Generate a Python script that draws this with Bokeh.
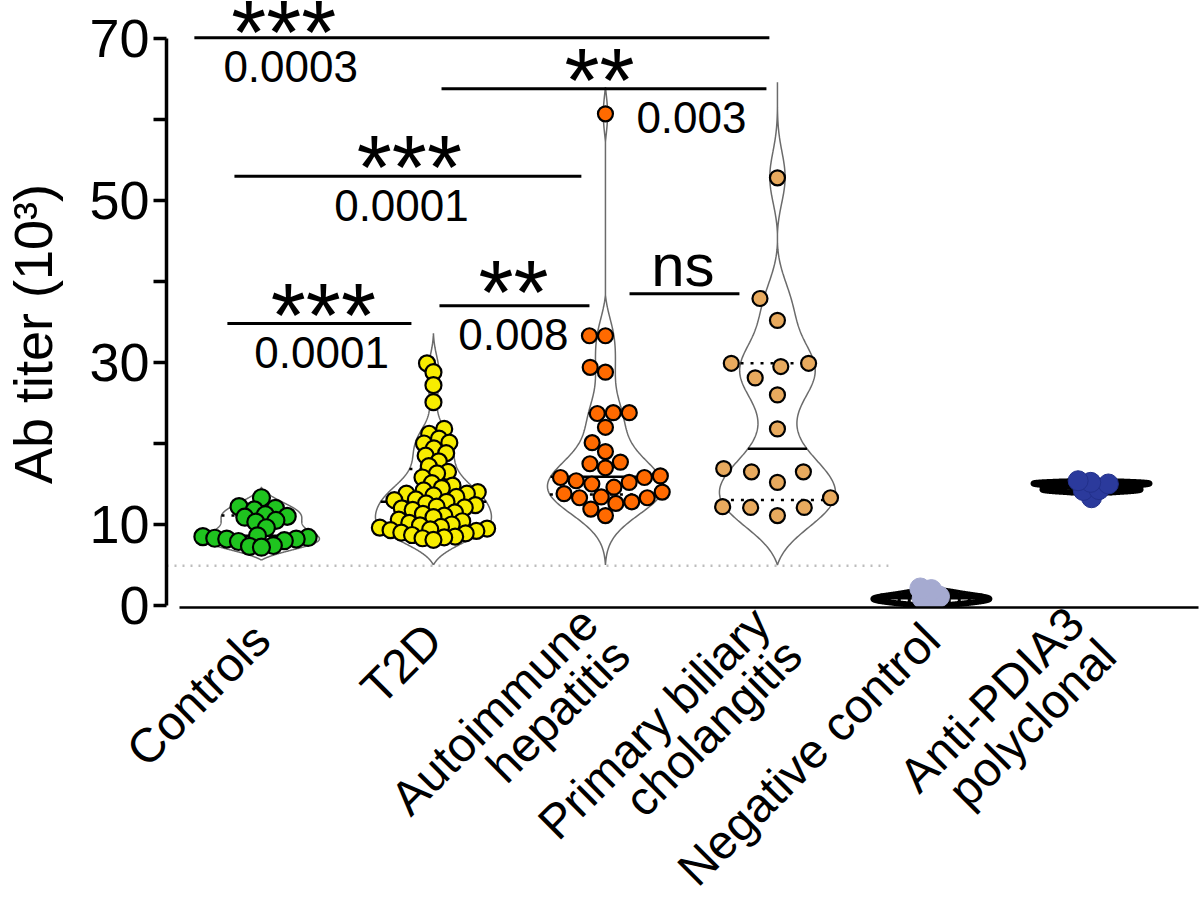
import numpy as np
from bokeh.plotting import figure
from bokeh.models import Range1d, FixedTicker
from bokeh.embed import file_html
from bokeh.resources import INLINE
from bokeh.core.properties import value

# ---------------- data ----------------
categories = ["Controls", "T2D", "Autoimmune\nhepatitis", "Primary biliary\ncholangitis",
              "Negative control", "Anti-PDIA3\npolyclonal"]

controls = [13.3, 12.2, 12.0, 11.8, 11.2, 11.0, 10.9, 10.5, 10.3, 9.6, 8.6, 8.5, 8.4, 8.3,
            8.2, 8.2, 8.0, 7.9, 7.4, 7.3, 7.2]
t2d = [29.9, 28.8, 27.2, 25.1, 21.8, 21.2, 20.6, 20.1, 20.0, 19.4, 18.8, 18.5, 17.8, 17.2,
       16.5, 16.3, 15.8, 15.1, 14.8, 14.5, 14.2, 14.0, 13.8, 13.8, 13.6, 13.4, 13.1, 13.0,
       12.8, 12.6, 12.4, 12.2, 12.1, 12.0, 11.8, 11.5, 11.3, 11.1, 10.9, 10.6, 10.4, 10.2,
       10.0, 9.9, 9.7, 9.6, 9.5, 9.4, 9.3, 9.2, 9.0, 8.9, 8.7, 8.5, 8.4, 8.3, 8.1]
aih = [60.7, 33.3, 33.3, 29.4, 28.8, 23.8, 23.8, 23.7, 22.0, 20.1, 19.0, 17.7, 17.5, 17.0,
       16.0, 15.8, 15.8, 15.4, 15.2, 15.0, 14.6, 14.0, 13.8, 13.4, 13.3, 13.3, 12.8, 12.6,
       11.9, 11.1]
pbc = [52.8, 37.9, 35.2, 29.9, 29.9, 29.5, 28.1, 26.0, 21.8, 16.9, 16.5, 16.5, 15.2, 13.3,
       12.2, 12.1, 12.1, 11.1]
neg_ctrl = [0.3, 0.9, 1.1, 1.9, 2.1]
anti_pdia3 = [13.3, 14.2, 14.3, 15.0, 15.2, 15.4]

groups = [controls, t2d, aih, pbc, neg_ctrl, anti_pdia3]

# violin extents and kernel bandwidths
violin_lo = [5.6, 5.0, 5.0, 5.0, -0.2, 13.8]
violin_hi = [14.6, 33.6, 64.0, 64.6, 2.0, 15.4]
bandwidth = [1.1, 1.8, 2.6, 3.2, 0.5, 0.4]

cutoff = 4.9

# significance annotations
sig_stars = ["***", "**", "***", "***", "**", "ns"]
sig_p = ["0.0003", "0.003", "0.0001", "0.0001", "0.008", ""]
sig_y = [70.1, 63.8, 53.0, 34.8, 37.0, 38.5]
sig_x0 = [-0.39, 1.047, -0.157, -0.198, 1.035, 2.14]
sig_x1 = [2.953, 2.936, 1.86, 0.872, 1.907, 2.779]
sig_star_x = [0.13, 1.965, 0.86, 0.36, 1.465, 2.45]
sig_p_x = [0.17, 2.5, 0.814, 0.35, 1.465, 2.45]
sig_star_dy = [0.55, 1.0, 1.0, 1.0, 1.6, 3.45]

# ---------------- layout / style ----------------
x_pos = [0.0, 1.0, 2.0, 3.0, 3.895, 4.826]
PX_X, PX_Y = 172.0, 8.1
XR = (-0.552, 5.448)
YR = (-0.25, 74.69)
fill_colors = ["#1fc41f", "#f7ec00", "#ff6a00", "#e8aa5e", "#a5aad0", "#2b3a9c"]
edge_colors = ["black", "black", "black", "black", "#a5aad0", "#22308a"]
msize = [17, 16, 15, 15, 21, 20]
swarm_d = [12, 11, 16, 28, 10, 11]
vline_color = ["#6b6b6b", "#6b6b6b", "#6b6b6b", "#6b6b6b", "black", "black"]
vline_w = [1.5, 1.5, 1.5, 1.5, 6, 6]
VW = 58 / PX_X
FONT = "Liberation Sans"


def swarm(vals, d_px):
    vals = np.asarray(vals, dtype=float)
    order = np.argsort(vals)
    placed = []
    offs = np.zeros(len(vals))
    for i in order:
        y = vals[i] * PX_Y
        cands = [0.0]
        for xj, yj in placed:
            dy = abs(y - yj)
            if dy < d_px:
                dx = np.sqrt(d_px ** 2 - dy ** 2)
                cands += [xj + dx, xj - dx]
        cands = sorted(cands, key=lambda c: (abs(c), c))
        for c in cands:
            if all((c - xj) ** 2 + (y - yj) ** 2 >= d_px ** 2 - 1e-6 for xj, yj in placed):
                offs[i] = c
                placed.append((c, y))
                break
    return offs / PX_X


def violin(vals, lo, hi, h):
    g = np.linspace(lo, hi, 400)
    v = np.asarray(vals, dtype=float)[:, None]
    d = np.exp(-0.5 * ((g[None, :] - v) / h) ** 2).sum(axis=0)
    ramp = d[0] + (d[-1] - d[0]) * (g - lo) / (hi - lo)
    d = np.clip(d - ramp, 0, None)
    return g, d / d.max() * VW


p = figure(frame_width=int(round((XR[1] - XR[0]) * PX_X)),
           frame_height=int(round((YR[1] - YR[0]) * PX_Y)),
           x_range=Range1d(*XR), y_range=Range1d(*YR),
           output_backend="svg", toolbar_location=None,
           min_border_left=165, min_border_right=3, min_border_top=0, min_border_bottom=317)
p.outline_line_color = None
p.xgrid.visible = False
p.ygrid.visible = False

# cutoff dotted line
p.line([XR[0], 3.645], [cutoff, cutoff], line_color="#bdbdbd", line_width=2.5, line_dash="2 6")

for i, vals in enumerate(groups):
    x0 = x_pos[i]
    g, hw = violin(vals, violin_lo[i], violin_hi[i], bandwidth[i])
    xs = np.concatenate([[x0], x0 + hw, [x0], (x0 - hw)[::-1], [x0]])
    ys = np.concatenate([[g[0]], g, [g[-1]], g[::-1], [g[0]]])
    p.line(xs, ys, line_color=vline_color[i], line_width=vline_w[i])
    q1, med, q3 = np.percentile(vals, [25, 50, 75], method="weibull")
    for q, dash in ((q1, "3 7"), (med, "solid"), (q3, "3 7")):
        w = np.interp(q, g, hw)
        p.line([x0 - w, x0 + w], [q, q], line_color="black",
               line_width=(vline_w[i] if i >= 4 else 2.5), line_dash=dash)

for i, vals in enumerate(groups):
    xo = np.array(x_pos[i]) + swarm(vals, swarm_d[i])
    p.scatter(xo, vals, size=msize[i], fill_color=fill_colors[i],
              line_color=edge_colors[i], line_width=2.2 if i < 4 else 1)

# significance bars
for k in range(len(sig_stars)):
    p.line([sig_x0[k], sig_x1[k]], [sig_y[k], sig_y[k]], line_color="black", line_width=3)
    p.text([sig_star_x[k]], [sig_y[k] + sig_star_dy[k]], text=[sig_stars[k]],
           text_font=value(FONT),
           text_font_size=("60px" if sig_stars[k] == "ns" else "90px"),
           text_align="center", text_baseline="middle", text_color="black")
    if sig_p[k]:
        p.text([sig_p_x[k]], [sig_y[k] - 3.6], text=[sig_p[k]],
               text_font=value(FONT), text_font_size="44px", text_align="center",
               text_baseline="middle", text_color="black")

# y axis
yax = p.yaxis[0]
yax.ticker = FixedTicker(ticks=[0, 10, 20, 30, 40, 50, 60, 70])
yax.major_label_overrides = {20: "", 40: "", 60: ""}
yax.bounds = (0, 70)
yax.axis_line_width = 3.5
yax.major_tick_line_width = 3.5
yax.major_tick_out = 13
yax.major_tick_in = 0
yax.minor_tick_line_color = None
yax.major_label_standoff = 4
yax.major_label_text_font = FONT
yax.major_label_text_font_size = "54px"
yax.major_label_text_color = "black"
yax.axis_label = "Ab titer (10³)\u00a0\u00a0\u00a0\u00a0"
yax.axis_label_text_font = FONT
yax.axis_label_text_font_size = "54px"
yax.axis_label_text_font_style = "normal"
yax.axis_label_text_color = "black"
yax.axis_label_standoff = 23

# x axis
xax = p.xaxis[0]
xax.ticker = FixedTicker(ticks=x_pos)
xax.major_label_overrides = {x: c for x, c in zip(x_pos, categories)}
xax.bounds = (-0.477, XR[1])
xax.axis_line_width = 2.5
xax.major_tick_line_color = None
xax.minor_tick_line_color = None
xax.major_label_orientation = np.pi / 4
xax.major_label_standoff = 18
xax.major_label_text_font = FONT
xax.major_label_text_font_size = "48px"
xax.major_label_text_color = "black"
xax.major_label_text_align = "left"
xax.major_label_text_line_height = 0.85

open("out.html", "w").write(file_html(p, INLINE))
